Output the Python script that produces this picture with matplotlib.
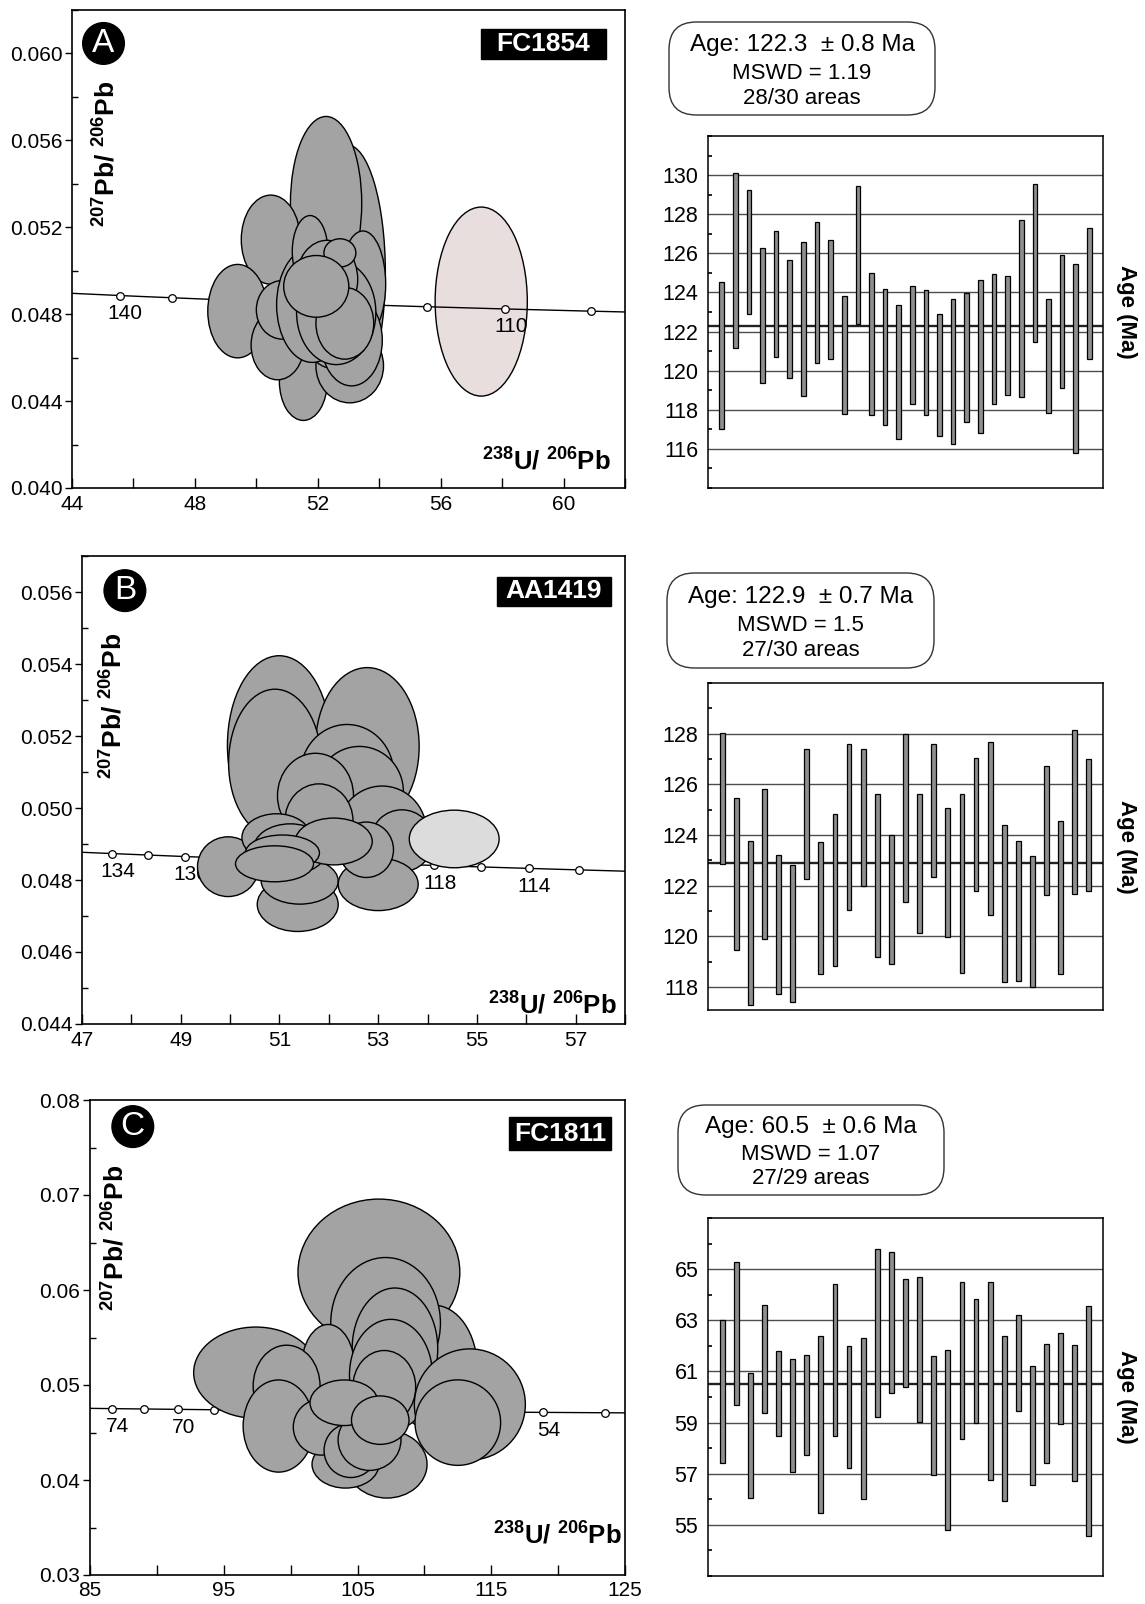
import numpy as np
import matplotlib
matplotlib.use('Agg')
import matplotlib.pyplot as plt
from matplotlib.patches import Ellipse, FancyBboxPatch, Rectangle
from matplotlib.ticker import MultipleLocator, FixedLocator

plt.rcParams['font.family'] = ['Liberation Sans', 'DejaVu Sans']
plt.rcParams['mathtext.fontset'] = 'custom'
plt.rcParams['mathtext.rm'] = 'Liberation Sans'
plt.rcParams['mathtext.bf'] = 'Liberation Sans:bold'
plt.rcParams['mathtext.it'] = 'Liberation Sans:italic'

# ---------------- DATA ----------------
# Panel A (FC1854) ellipses: centre x (238U/206Pb), centre y (207Pb/206Pb), full width, full height
a_ell_x = [52.95, 52.27, 50.47, 49.39, 53.47, 51.53, 53.04, 50.69, 50.85, 52.5, 53.1, 51.82, 52.6, 51.75, 52.3, 52.72, 52.88, 51.95]
a_ell_y = [0.0499, 0.0531, 0.05143, 0.04814, 0.04938, 0.04491, 0.04562, 0.04658, 0.0482, 0.0478, 0.0468, 0.04843, 0.04808, 0.05089, 0.0496, 0.05082, 0.04758, 0.04928]
a_ell_w = [2.5, 2.32, 1.92, 1.94, 1.48, 1.56, 2.2, 1.72, 1.7, 2.2, 2.0, 2.32, 2.58, 1.16, 2.0, 1.04, 1.88, 2.12]
a_ell_h = [0.0118, 0.0080, 0.0041, 0.0043, 0.0049, 0.0036, 0.0034, 0.0032, 0.0027, 0.0046, 0.0042, 0.0053, 0.0048, 0.0033, 0.0036, 0.0013, 0.0033, 0.00284]
a_rej = [57.32, 0.04858, 3.0, 0.0087]
a_marker_ages = [140, 135, 130, 125, 120, 115, 110, 105]
a_label_ages = [140, 110]
a_xticks = [44, 48, 52, 56, 60]
a_bar_lo = [117.03, 121.15, 122.89, 119.37, 120.68, 119.64, 118.69, 120.41, 120.59, 117.76, 122.41, 117.71, 117.23, 116.49,
            118.27, 117.71, 116.64, 116.23, 117.37, 116.83, 118.27, 118.78, 118.64, 121.49, 117.84, 119.12, 115.79, 120.59]
a_bar_hi = [124.53, 130.10, 129.22, 126.28, 127.15, 125.67, 126.57, 127.61, 126.69, 123.82, 129.46, 124.99, 124.16, 123.36,
            124.33, 124.11, 122.89, 123.68, 123.96, 124.62, 124.96, 124.82, 127.71, 129.54, 123.68, 125.91, 125.43, 127.32]
a_mean = 122.3
a_age_ticks = [116, 118, 120, 122, 124, 126, 128, 130]

# Panel B (AA1419)
b_ell_x = [50.996, 52.78, 50.91, 52.37, 52.62, 51.73, 53.08, 53.48, 51.8, 49.96, 51.37, 51.41, 53.0, 52.76, 50.94, 51.22, 52.1, 51.06, 50.9]
b_ell_y = [0.05174, 0.05171, 0.05125, 0.05092, 0.05046, 0.05034, 0.04934, 0.04909, 0.04964, 0.04837, 0.04732, 0.04797, 0.04788, 0.04884, 0.04918, 0.04886, 0.04907, 0.04875, 0.04845]
b_ell_w = [2.1, 2.1, 1.88, 1.9, 1.78, 1.54, 1.8, 1.26, 1.38, 1.24, 1.64, 1.56, 1.62, 1.1, 1.4, 1.5, 1.56, 1.5, 1.58]
b_ell_h = [0.00498, 0.00438, 0.0041, 0.0028, 0.0025, 0.00236, 0.00254, 0.00172, 0.00206, 0.00166, 0.0015, 0.00128, 0.00146, 0.00154, 0.00132, 0.0014, 0.0013, 0.001, 0.001]
b_rej = [54.54, 0.04914, 1.82, 0.0016]
b_marker_ages = [134, 132, 130, 128, 126, 124, 122, 120, 118, 116, 114, 112]
b_label_ages = [134, 130, 118, 114]
b_xticks = [47, 49, 51, 53, 55, 57]
b_bar_lo = [122.87, 119.46, 117.30, 119.89, 117.72, 117.40, 122.28, 118.53, 118.83, 121.06, 122.00, 119.21, 118.93, 121.38,
            120.12, 122.36, 119.97, 118.57, 121.80, 120.85, 118.20, 118.23, 118.01, 121.62, 118.53, 121.67, 121.80]
b_bar_hi = [128.04, 125.48, 123.76, 125.80, 123.21, 122.81, 127.40, 123.74, 124.85, 127.60, 127.38, 125.62, 124.00, 128.00,
            125.64, 127.60, 125.06, 125.64, 127.05, 127.68, 124.40, 123.77, 123.17, 126.73, 124.56, 128.16, 126.99]
b_mean = 122.9
b_age_ticks = [118, 120, 122, 124, 126, 128]

# Panel C (FC1811)
c_ell_x = [106.6, 110.7, 97.4, 107.1, 107.8, 102.8, 99.7, 107.5, 113.4, 107.2, 104.1, 99.1, 112.5, 102.3, 104.5, 105.9, 107.0, 104.0, 106.7]
c_ell_y = [0.06187, 0.0518, 0.05130, 0.05652, 0.05381, 0.05172, 0.04989, 0.05106, 0.04795, 0.04165, 0.04165, 0.04568, 0.04604, 0.04557, 0.04311, 0.04421, 0.04978, 0.04813, 0.0463]
c_ell_w = [12.1, 6.5, 9.3, 8.2, 6.4, 4.0, 5.0, 6.2, 8.3, 6.0, 5.0, 5.3, 6.4, 4.2, 4.0, 4.7, 4.7, 5.1, 4.3]
c_ell_h = [0.0154, 0.0132, 0.0096, 0.0138, 0.0128, 0.0093, 0.0086, 0.0117, 0.0117, 0.0071, 0.005, 0.0097, 0.009, 0.0059, 0.0057, 0.0064, 0.0077, 0.0048, 0.0051]
c_marker_ages = [74, 72, 70, 68, 66, 64, 62, 60, 58, 56, 54, 52]
c_label_ages = [74, 70, 54]
c_xticks = [85, 95, 105, 115, 125]
c_bar_lo = [57.42, 59.67, 56.06, 59.39, 58.48, 57.08, 57.72, 55.45, 58.48, 57.22, 56.03, 59.23, 60.14, 60.41,
            59.01, 56.95, 54.81, 58.35, 58.99, 56.77, 55.95, 59.46, 56.56, 57.42, 58.95, 56.70, 54.56]
c_bar_hi = [63.03, 65.27, 60.93, 63.61, 61.78, 61.48, 61.64, 62.39, 64.43, 62.01, 62.32, 65.79, 65.68, 64.61,
            64.70, 61.60, 61.84, 64.51, 63.82, 64.50, 62.39, 63.20, 61.22, 62.09, 62.50, 62.02, 63.56]
c_mean = 60.5
c_age_ticks = [55, 57, 59, 61, 63, 65]

samples = ['FC1854', 'AA1419', 'FC1811']
letters = ['A', 'B', 'C']
box_texts = [('Age: 122.3  \u00b1 0.8 Ma', 'MSWD = 1.19', '28/30 areas'),
             ('Age: 122.9  \u00b1 0.7 Ma', 'MSWD = 1.5', '27/30 areas'),
             ('Age: 60.5  \u00b1 0.6 Ma', 'MSWD = 1.07', '27/29 areas')]

# decay constants (per Ma) for the Tera-Wasserburg concordia
L238 = 1.55125e-4
L235 = 9.8485e-4
U85 = 137.818

# ---------------- FIGURE ----------------
W, H = 1145, 1604
fig = plt.figure(figsize=(W / 100, H / 100), dpi=100)


def add_ax(x0, y0, x1, y1):
    return fig.add_axes([x0 / W, 1 - y1 / H, (x1 - x0) / W, (y1 - y0) / H])


def tw(t):
    e8 = np.expm1(L238 * np.asarray(t, float))
    e5 = np.expm1(L235 * np.asarray(t, float))
    return 1.0 / e8, e5 / e8 / U85


ELL_FC = '#a3a3a3'
SUPY = r'$\mathbf{^{207}Pb/\ ^{206}Pb}$'
SUPX = r'$\mathbf{^{238}U/\ ^{206}Pb}$'


def concordia_panel(ax, xlim, ylim, xticks, xmin, ymaj, ymin, yfmt,
                    ex, ey, ew, eh, rej, rej_fc, rej_z, mages, lages,
                    letter, sample, lpos, srect, ylpos, xlpos, xpad=5):
    ax.set_xlim(*xlim)
    ax.set_ylim(*ylim)
    t = np.linspace(20, 250, 2000)
    cx, cy = tw(t)
    ax.plot(cx, cy, color='black', lw=1.0, zorder=1)
    mx, my = tw(mages)
    ax.plot(mx, my, 'o', ms=5.5, mfc='white', mec='black', mew=0.9, zorder=1.5)
    for a in lages:
        lx, ly = tw(a)
        ax.annotate(str(a), (lx, ly), xytext=(4, -6), textcoords='offset points',
                    ha='center', va='top', fontsize=15, zorder=1.6)
    if rej is not None:
        ax.add_patch(Ellipse((rej[0], rej[1]), rej[2], rej[3], facecolor=rej_fc,
                             edgecolor='black', lw=1.0, zorder=rej_z))
    for i in range(len(ex)):
        ax.add_patch(Ellipse((ex[i], ey[i]), ew[i], eh[i], facecolor=ELL_FC,
                             edgecolor='black', lw=1.0, zorder=2 + i * 0.01))
    ax.xaxis.set_major_locator(FixedLocator(xticks))
    ax.xaxis.set_minor_locator(MultipleLocator(xmin))
    ax.yaxis.set_major_locator(MultipleLocator(ymaj))
    ax.yaxis.set_minor_locator(MultipleLocator(ymin))
    ax.yaxis.set_major_formatter(plt.FormatStrFormatter(yfmt))
    ax.tick_params(axis='y', which='major', direction='out', length=5, width=1, labelsize=15, pad=2)
    ax.tick_params(axis='y', which='minor', direction='in', length=4, width=1)
    ax.tick_params(axis='x', which='major', direction='in', length=7, width=1, labelsize=15, pad=xpad)
    ax.tick_params(axis='x', which='minor', direction='in', length=7, width=1)
    for s in ax.spines.values():
        s.set_linewidth(1.2)
    ax.text(lpos[0], lpos[1], letter, transform=ax.transAxes, ha='center', va='center',
            color='white', fontsize=24, zorder=10,
            bbox=dict(boxstyle='circle,pad=0.16', fc='black', ec='black'))
    ax.add_patch(Rectangle((srect[0], srect[1]), srect[2] - srect[0], srect[3] - srect[1],
                           transform=ax.transAxes, fc='black', ec='black', zorder=10))
    ax.text((srect[0] + srect[2]) / 2, (srect[1] + srect[3]) / 2, sample, transform=ax.transAxes,
            ha='center', va='center', color='white', fontsize=19, fontweight='bold', zorder=11)
    ax.text(ylpos[0], ylpos[1], SUPY, transform=ax.transAxes, ha='center', va='center',
            rotation=90, fontsize=19, zorder=10)
    ax.text(xlpos[0], xlpos[1], SUPX, transform=ax.transAxes, ha='center', va='center',
            fontsize=18.5, zorder=10)


def mean_panel(ax, lo, hi, mean, ylim, ticks):
    n = len(lo)
    xs = np.arange(1, n + 1)
    ax.set_xlim(0, n + 1)
    ax.set_ylim(*ylim)
    for tv in ticks:
        ax.axhline(tv, color='#4d4d4d', lw=1.0, zorder=1)
    ax.axhline(mean, color='#222222', lw=1.7, zorder=1.2)
    ax.bar(xs, np.array(hi) - np.array(lo), bottom=lo, width=0.34,
           color='#8e8e8e', edgecolor='black', lw=0.9, zorder=3)
    ax.set_yticks(ticks)
    ax.set_yticklabels([str(int(v)) for v in ticks])
    ax.yaxis.set_minor_locator(MultipleLocator(1))
    ax.tick_params(axis='y', which='major', length=0, labelsize=15.5, pad=7)
    ax.tick_params(axis='y', which='minor', direction='in', length=3, width=1.2)
    ax.set_xticks([])
    for s in ax.spines.values():
        s.set_linewidth(1.1)
    ax.text(1.06, 0.5, 'Age (Ma)', transform=ax.transAxes, rotation=270,
            ha='center', va='center', fontsize=16, fontweight='bold')


def info_box(x0, y0, x1, y1, lines):
    box = FancyBboxPatch((x0 / W, 1 - y1 / H), (x1 - x0) / W, (y1 - y0) / H,
                         boxstyle='round,pad=0,rounding_size=0.024',
                         transform=fig.transFigure, fc='white', ec='#333333', lw=1.0,
                         mutation_aspect=W / H)
    fig.patches.append(box)
    cxp = (x0 + x1) / 2 / W
    hgt = y1 - y0
    fig.text(cxp, 1 - (y0 + 0.25 * hgt) / H, lines[0], ha='center', va='center', fontsize=17.5)
    fig.text(cxp, 1 - (y0 + 0.55 * hgt) / H, lines[1], ha='center', va='center', fontsize=16)
    fig.text(cxp, 1 - (y0 + 0.82 * hgt) / H, lines[2], ha='center', va='center', fontsize=16)


# ---- Row A ----
axA = add_ax(72, 10, 625, 488)
concordia_panel(axA, (44, 62), (0.040, 0.062), a_xticks, 2, 0.004, 0.002, '%.3f',
                a_ell_x, a_ell_y, a_ell_w, a_ell_h, a_rej, '#e8dede', 0.5,
                a_marker_ages, a_label_ages, letters[0], samples[0],
                (0.057, 0.93), (0.739, 0.897, 0.965, 0.961), (0.063, 0.70), (0.858, 0.055))
axA2 = add_ax(708, 136, 1103, 488)
mean_panel(axA2, a_bar_lo, a_bar_hi, a_mean, (114, 132), a_age_ticks)
info_box(669, 22, 935, 115, box_texts[0])

# ---- Row B ----
axB = add_ax(82, 556, 625, 1024)
concordia_panel(axB, (47, 58), (0.044, 0.057), b_xticks, 1, 0.002, 0.001, '%.3f',
                b_ell_x, b_ell_y, b_ell_w, b_ell_h, b_rej, '#dcdcdc', 2.5,
                b_marker_ages, b_label_ages, letters[1], samples[1],
                (0.079, 0.926), (0.764, 0.893, 0.974, 0.956), (0.058, 0.68), (0.867, 0.04))
axB2 = add_ax(708, 683, 1103, 1010)
mean_panel(axB2, b_bar_lo, b_bar_hi, b_mean, (117.1, 130), b_age_ticks)
info_box(667, 573, 934, 668, box_texts[1])

# ---- Row C ----
axC = add_ax(90, 1100, 625, 1575)
concordia_panel(axC, (85, 125), (0.03, 0.08), c_xticks, 5, 0.01, 0.005, '%.2f',
                c_ell_x, c_ell_y, c_ell_w, c_ell_h, None, None, 0,
                c_marker_ages, c_label_ages, letters[2], samples[2],
                (0.08, 0.944), (0.784, 0.894, 0.973, 0.964), (0.048, 0.71), (0.874, 0.083), xpad=4)
axC2 = add_ax(708, 1218, 1103, 1576)
mean_panel(axC2, c_bar_lo, c_bar_hi, c_mean, (53, 67), c_age_ticks)
info_box(678, 1105, 944, 1195, box_texts[2])

fig.savefig('out.png', dpi=100, facecolor='white')
